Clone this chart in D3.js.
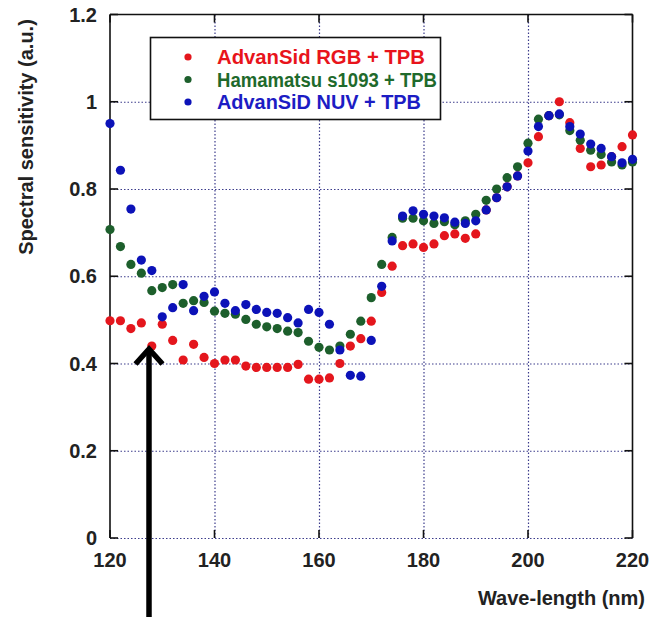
<!DOCTYPE html>
<html>
<head>
<meta charset="utf-8">
<style>
    body { margin: 0; background: white; }
    svg { display: block; font-family: "Liberation Sans", Arial, sans-serif; }
    .tick-label { font-size: 20px; font-weight: bold; fill: #222; }
    .axis-title { font-size: 20px; font-weight: bold; fill: #222; }
    .legend-text { font-size: 20px; font-weight: bold; }
    .grid line { stroke: #3c3c8c; stroke-width: 1.2px; stroke-dasharray: 1.5,2; }
</style>
</head>
<body>
<svg width="649" height="617"></svg>

<script src="https://d3js.org/d3.v7.min.js"></script>
<script>
    // values (wave-length in nm, sensitivity in a.u.)
    let wavelengths = d3.range(120, 221, 2);

    let rgbValues = [0.498, 0.498, 0.480, 0.493, 0.440, 0.490, 0.453, 0.408, 0.444, 0.414,
        0.400, 0.408, 0.408, 0.394, 0.391, 0.391, 0.391, 0.391, 0.398, 0.364,
        0.364, 0.367, 0.400, 0.440, 0.457, 0.497, 0.563, 0.623, 0.670, 0.674,
        0.666, 0.674, 0.693, 0.697, 0.687, 0.697, 0.752, 0.780, 0.805, 0.830,
        0.860, 0.920, 0.968, 1.000, 0.952, 0.893, 0.851, 0.855, 0.874, 0.897, 0.924];

    let hamamatsuValues = [0.707, 0.668, 0.627, 0.607, 0.567, 0.574, 0.581, 0.538, 0.544, 0.540,
        0.520, 0.515, 0.513, 0.501, 0.490, 0.484, 0.480, 0.474, 0.471, 0.451,
        0.437, 0.431, 0.440, 0.467, 0.497, 0.551, 0.627, 0.689, 0.733, 0.733,
        0.727, 0.721, 0.725, 0.718, 0.727, 0.742, 0.774, 0.800, 0.826, 0.851,
        0.905, 0.960, 0.968, 0.970, 0.934, 0.912, 0.889, 0.879, 0.862, 0.855, 0.862];

    let nuvValues = [0.950, 0.843, 0.754, 0.637, 0.613, 0.507, 0.528, 0.581, 0.521, 0.554,
        0.564, 0.538, 0.521, 0.535, 0.524, 0.517, 0.515, 0.505, 0.493, 0.524,
        0.517, 0.490, 0.431, 0.373, 0.371, 0.453, 0.577, 0.681, 0.738, 0.750,
        0.742, 0.738, 0.734, 0.724, 0.721, 0.727, 0.752, 0.780, 0.805, 0.830,
        0.887, 0.943, 0.968, 0.972, 0.943, 0.926, 0.903, 0.893, 0.874, 0.860, 0.868];

    let seriesNames = ["AdvanSid RGB + TPB", "Hamamatsu s1093 + TPB", "AdvanSiD NUV + TPB"];
    let seriesColors = ["#e4161d", "#1d5f2c", "#0c12b8"];
    let legendColors = ["#e8141b", "#1f6a2c", "#1c1cc4"];

    let xTicks = [120, 140, 160, 180, 200, 220];
    let yTicks = [0, 0.2, 0.4, 0.6, 0.8, 1.0, 1.2];

    let margin = { top: 14.5, right: 16.5, bottom: 79, left: 110 };
    let width = 649;
    let height = 617;

    let svg = d3.select("svg");

    let x = d3.scaleLinear()
        .domain([120, 220])
        .range([margin.left, width - margin.right]);

    let y = d3.scaleLinear()
        .domain([0, 1.2])
        .range([height - margin.bottom, margin.top]);

    // dotted grid
    svg.append("g")
        .attr("class", "grid")
        .attr("transform", `translate(0, ${y(0)})`)
        .call(d3.axisBottom(x).tickValues([140, 160, 180, 200]).tickSize(-(y(0) - y(1.2))).tickFormat(""))
        .call(g => g.select(".domain").remove());

    svg.append("g")
        .attr("class", "grid")
        .attr("transform", `translate(${x(120)}, 0)`)
        .call(d3.axisLeft(y).tickValues([0, 0.2, 0.4, 0.6, 0.8, 1.0]).tickSize(-(x(220) - x(120))).tickFormat(""))
        .call(g => g.select(".domain").remove());

    // frame: left, right, top solid
    let frame = svg.append("g").attr("stroke", "#111").attr("stroke-width", 1.6);
    frame.append("line").attr("x1", x(120)).attr("x2", x(120)).attr("y1", y(1.2)).attr("y2", y(0));
    frame.append("line").attr("x1", x(220)).attr("x2", x(220)).attr("y1", y(1.2)).attr("y2", y(0));
    frame.append("line").attr("x1", x(120)).attr("x2", x(220)).attr("y1", y(1.2)).attr("y2", y(1.2));

    // inward ticks
    let tickLen = 8;
    xTicks.forEach(function (t) {
        frame.append("line").attr("x1", x(t)).attr("x2", x(t)).attr("y1", y(0)).attr("y2", y(0) - tickLen);
        frame.append("line").attr("x1", x(t)).attr("x2", x(t)).attr("y1", y(1.2)).attr("y2", y(1.2) + tickLen);
    });
    yTicks.forEach(function (t) {
        frame.append("line").attr("x1", x(120)).attr("x2", x(120) + tickLen).attr("y1", y(t)).attr("y2", y(t));
        frame.append("line").attr("x1", x(220)).attr("x2", x(220) - tickLen).attr("y1", y(t)).attr("y2", y(t));
    });

    // tick labels
    svg.append("g").selectAll("text")
        .data(xTicks)
        .join("text")
        .attr("class", "tick-label")
        .attr("x", d => x(d))
        .attr("y", y(0) + 29)
        .attr("text-anchor", "middle")
        .text(d => d);

    svg.append("g").selectAll("text")
        .data(yTicks)
        .join("text")
        .attr("class", "tick-label")
        .attr("x", x(120) - 13)
        .attr("y", d => y(d))
        .attr("dy", "0.36em")
        .attr("text-anchor", "end")
        .text(d => d3.format("")(d));

    // axis titles
    svg.append("text")
        .attr("class", "axis-title")
        .attr("transform", "translate(33, 137) rotate(-90)")
        .attr("text-anchor", "middle")
        .text("Spectral sensitivity (a.u.)");

    svg.append("text")
        .attr("class", "axis-title")
        .attr("x", 645)
        .attr("y", 605)
        .attr("text-anchor", "end")
        .text("Wave-length (nm)");

    // points
    let allSeries = [rgbValues, hamamatsuValues, nuvValues];
    allSeries.forEach(function (vals, i) {
        svg.append("g").selectAll("circle")
            .data(vals)
            .join("circle")
            .attr("cx", (d, j) => x(wavelengths[j]))
            .attr("cy", d => y(d))
            .attr("r", 4.6)
            .style("fill", seriesColors[i]);
    });

    // legend
    let legend = svg.append("g");
    legend.append("rect")
        .attr("x", 150.5).attr("y", 37.5)
        .attr("width", 290).attr("height", 82)
        .style("fill", "white")
        .style("stroke", "#111")
        .style("stroke-width", 1.6);

    let legendTextWidths = [208, 220, 204];
    seriesNames.forEach(function (name, i) {
        let cy = 57 + i * 22.5;
        legend.append("circle")
            .attr("cx", 188).attr("cy", cy).attr("r", 3.6)
            .style("fill", seriesColors[i]);
        legend.append("text")
            .attr("class", "legend-text")
            .attr("x", 217).attr("y", cy + 7)
            .attr("textLength", legendTextWidths[i])
            .attr("lengthAdjust", "spacingAndGlyphs")
            .style("fill", legendColors[i])
            .text(name);
    });

    // annotation arrow
    let arrow = svg.append("g")
        .style("fill", "none")
        .style("stroke", "black")
        .style("stroke-width", 5.5);
    arrow.append("line").attr("x1", 149).attr("x2", 149).attr("y1", 617).attr("y2", 350);
    arrow.append("polyline")
        .attr("points", "135.5,364 149,349 162.5,364")
        .style("stroke-linejoin", "miter");
</script>
</body>
</html>
